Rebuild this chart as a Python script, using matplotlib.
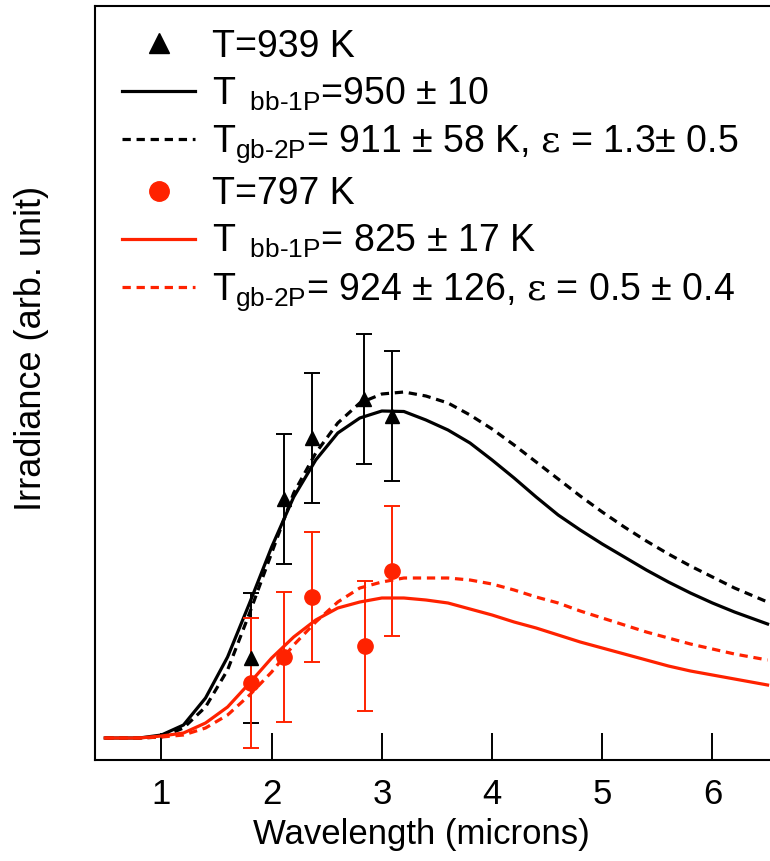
import matplotlib
matplotlib.use('Agg')
import matplotlib.pyplot as plt
from matplotlib.lines import Line2D

plt.rcParams['font.family'] = ['Liberation Sans', 'DejaVu Sans']
plt.rcParams['mathtext.fontset'] = 'custom'
plt.rcParams['mathtext.rm'] = 'Liberation Sans'
plt.rcParams['mathtext.it'] = 'Liberation Sans:italic'
plt.rcParams['mathtext.sf'] = 'DejaVu Serif'

RED = '#ff2200'

# Fitted curves (arb. units)
wavelength = [0.49, 0.8, 1.0, 1.2, 1.4, 1.6, 1.8, 2.0, 2.2, 2.4, 2.6, 2.8, 3.0, 3.2,
              3.4, 3.6, 3.8, 4.0, 4.2, 4.4, 4.6, 4.8, 5.0, 5.2, 5.4, 5.6, 5.8, 6.0,
              6.2, 6.5]
bb_939 = [0, 0, 0.03, 0.13, 0.40, 0.81, 1.35, 1.91, 2.41, 2.78, 3.05, 3.20, 3.27, 3.265,
          3.18, 3.08, 2.95, 2.78, 2.60, 2.41, 2.23, 2.08, 1.94, 1.81, 1.68, 1.56, 1.45,
          1.35, 1.26, 1.14]
gb_939 = [0, 0, 0.01, 0.10, 0.31, 0.68, 1.25, 1.85, 2.45, 2.85, 3.15, 3.35, 3.44, 3.46,
          3.42, 3.35, 3.23, 3.09, 2.93, 2.76, 2.59, 2.42, 2.26, 2.11, 1.97, 1.84, 1.72,
          1.61, 1.50, 1.36]
bb_797 = [0, 0, 0.02, 0.05, 0.15, 0.31, 0.55, 0.80, 1.01, 1.18, 1.30, 1.36, 1.40, 1.40,
          1.38, 1.35, 1.29, 1.23, 1.16, 1.10, 1.03, 0.96, 0.90, 0.84, 0.78, 0.72, 0.67,
          0.63, 0.59, 0.53]
gb_797 = [0, 0, 0.01, 0.03, 0.10, 0.23, 0.43, 0.66, 0.93, 1.16, 1.36, 1.50, 1.56, 1.60,
          1.60, 1.60, 1.58, 1.54, 1.48, 1.41, 1.35, 1.27, 1.20, 1.13, 1.06, 1.00, 0.94,
          0.89, 0.84, 0.78]

# Measured points
x_939 = [1.81, 2.11, 2.37, 2.84, 3.09]
y_939 = [0.80, 2.39, 3.00, 3.39, 3.22]
err_939 = [0.65, 0.65, 0.65, 0.65, 0.65]
x_797 = [1.81, 2.11, 2.37, 2.85, 3.09]
y_797 = [0.55, 0.81, 1.41, 0.92, 1.67]
err_797 = [0.65, 0.65, 0.65, 0.65, 0.65]

xticks = [1, 2, 3, 4, 5, 6]

labels = [
    'T=939 K',
    r'T$_{\ \ \mathrm{bb‐1P}}$=950 ± 10',
    r'T$_{\mathrm{gb‐2P}}$= 911 ± 58 K, $\mathsf{ε}$ = 1.3± 0.5',
    'T=797 K',
    r'T$_{\ \ \mathrm{bb‐1P}}$= 825 ± 17 K',
    r'T$_{\mathrm{gb‐2P}}$= 924 ± 126, $\mathsf{ε}$ = 0.5 ± 0.4',
]

fig = plt.figure(figsize=(7.7, 8.61), dpi=100)
ax = fig.add_axes([95 / 770, (861 - 759.5) / 861, 675 / 770, 753.5 / 861])

dash = (0, (2.6, 1.8))
ax.plot(wavelength, bb_939, color='k', lw=2.3)
ax.plot(wavelength, gb_939, color='k', lw=2.3, ls=dash)
ax.plot(wavelength, bb_797, color=RED, lw=2.3)
ax.plot(wavelength, gb_797, color=RED, lw=2.3, ls=dash)

ax.errorbar(x_939, y_939, yerr=err_939, fmt='^', color='k', ms=10, capsize=5.5,
            elinewidth=1.4, capthick=1.4, zorder=4)
ax.errorbar(x_797, y_797, yerr=err_797, fmt='o', color=RED, ms=11, capsize=5.5,
            elinewidth=1.4, capthick=1.4, zorder=4)

ax.set_xlim(0.397, 6.522)
ax.set_ylim(-0.215, 7.32)
ax.set_xticks(xticks)
ax.set_xticklabels([str(t) for t in xticks])
ax.set_yticks([])
ax.tick_params(axis='x', direction='in', length=19.5, width=1.4, pad=13, labelsize=25)
for side in ['left', 'top', 'bottom']:
    ax.spines[side].set_linewidth(1.5)
ax.spines['right'].set_visible(False)

ax.set_xlabel('Wavelength (microns)', fontsize=25)
ax.xaxis.set_label_coords(0.484, -0.078)
ax.set_ylabel('Irradiance (arb. unit)', fontsize=26)
ax.yaxis.set_label_coords(-0.0687, 0.546)

handles = [
    Line2D([], [], marker='^', ms=14, ls='none', color='k'),
    Line2D([], [], color='k', lw=2.3),
    Line2D([], [], color='k', lw=2.3, ls=dash),
    Line2D([], [], marker='o', ms=14, ls='none', color=RED),
    Line2D([], [], color=RED, lw=2.3),
    Line2D([], [], color=RED, lw=2.3, ls=dash),
]
ax.legend(handles, labels, loc='upper left', bbox_to_anchor=(0.04, 0.97),
          frameon=False, fontsize=27, handlelength=1.95, handletextpad=0.45,
          labelspacing=0.29, borderpad=0, borderaxespad=0)

fig.savefig('out.png', dpi=100)
